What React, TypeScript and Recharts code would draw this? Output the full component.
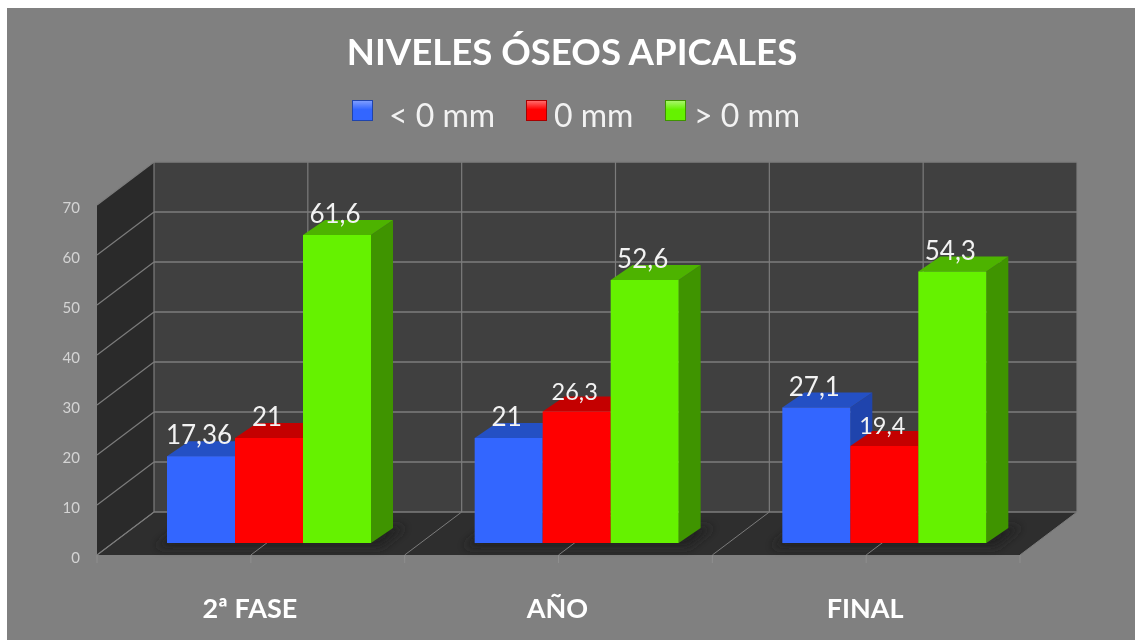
import { Bar, BarChart, CartesianGrid, LabelList, XAxis, YAxis } from "recharts";

const categories = ["2ª FASE", "AÑO", "FINAL"];
const menorCero = [17.36, 21, 27.1];
const cero = [21, 26.3, 19.4];
const mayorCero = [61.6, 52.6, 54.3];
const yTicks = [0, 10, 20, 30, 40, 50, 60, 70];

const data = categories.map((name, i) => ({
  name,
  menor: menorCero[i],
  cero: cero[i],
  mayor: mayorCero[i],
}));

const FONT = "Lato, 'Open Sans', sans-serif";

// plot front plane, in page pixels
const LEFT = 97;
const RIGHT = 1020;
const TOP = 205;
const BOTTOM = 555;
// how far the back wall sits from the front plane
const DEPTH_X = 57;
const DEPTH_Y = 43;
// bars stand part way into the floor
const BAR_X = 18;
const BAR_Y = 12;
const SIDE_X = 22;
const SIDE_Y = 15;

const GRID = "#7c7c7c";

const series = [
  { key: "menor", name: "< 0 mm", front: "#3366ff", top: "#2450c4", side: "#1f44ad", light: "#7d9dff" },
  { key: "cero", name: "0 mm", front: "#ff0000", top: "#c40000", side: "#a80000", light: "#ff6a6a" },
  { key: "mayor", name: "> 0 mm", front: "#65f200", top: "#4db300", side: "#3f9400", light: "#a8f56a" },
];

function Box(props: any) {
  const { x, y, width, height, colors } = props;
  const right = x + width;
  const bottom = y + height;
  return (
    <g transform={`translate(${BAR_X},${-BAR_Y})`}>
      <polygon
        points={`${right},${y} ${right + SIDE_X},${y - SIDE_Y} ${right + SIDE_X},${bottom - SIDE_Y} ${right},${bottom}`}
        fill={colors.side}
      />
      <polygon
        points={`${x},${y} ${x + SIDE_X},${y - SIDE_Y} ${right + SIDE_X},${y - SIDE_Y} ${right},${y}`}
        fill={colors.top}
      />
      <rect x={x} y={y} width={width} height={height} fill={colors.front} />
    </g>
  );
}

function ValueLabel(props: any) {
  const { x, y, width, value } = props;
  const size = value === 26.3 || value === 19.4 ? 23.5 : 26;
  return (
    <text
      x={x + width / 2 + BAR_X - 2}
      y={y - BAR_Y - 12}
      textAnchor="middle"
      fontFamily={FONT}
      fontSize={size}
      fill="#f2f2f2"
    >
      {String(value).replace(".", ",")}
    </text>
  );
}

// back wall, side wall and floor sit behind the transparent chart
function Walls() {
  const band = (RIGHT - LEFT) / categories.length;
  return (
    <svg width={1135} height={640} style={{ position: "absolute", left: 0, top: 0 }}>
      <defs>
        <filter id="floorShadow" x="-20%" y="-80%" width="140%" height="260%">
          <feGaussianBlur stdDeviation="5" />
        </filter>
      </defs>
      <rect x={LEFT + DEPTH_X} y={TOP - DEPTH_Y} width={RIGHT - LEFT} height={BOTTOM - TOP} fill="#404040" />
      <polygon
        points={`${LEFT},${TOP} ${LEFT + DEPTH_X},${TOP - DEPTH_Y} ${LEFT + DEPTH_X},${BOTTOM - DEPTH_Y} ${LEFT},${BOTTOM}`}
        fill="#2a2a2a"
      />
      <polygon
        points={`${LEFT},${BOTTOM} ${LEFT + DEPTH_X},${BOTTOM - DEPTH_Y} ${RIGHT + DEPTH_X},${BOTTOM - DEPTH_Y} ${RIGHT},${BOTTOM}`}
        fill="#2e2e2e"
      />
      {categories.map((c, i) => {
        const cx = LEFT + band * (i + 0.5);
        return (
          <polygon
            key={c}
            points={`${cx - 95},${BOTTOM - 8} ${cx + 130},${BOTTOM - 8} ${cx + 155},${BOTTOM - 28} ${cx - 70},${BOTTOM - 28}`}
            fill="#202020"
            filter="url(#floorShadow)"
          />
        );
      })}
    </svg>
  );
}

function HorizontalLine(props: any) {
  const { x1, x2, y1, key } = props;
  const bx = x1 + DEPTH_X;
  const by = y1 - DEPTH_Y;
  return (
    <g key={key ?? y1}>
      <line x1={x1} y1={y1} x2={bx} y2={by} stroke={GRID} strokeWidth={1.2} />
      <line x1={bx} y1={by} x2={x2 + DEPTH_X} y2={by} stroke={GRID} strokeWidth={1.5} />
    </g>
  );
}

function VerticalLine(props: any) {
  const { x1, y1, y2, key } = props;
  const bx = x1 + DEPTH_X;
  return (
    <g key={key ?? x1}>
      <line x1={bx} y1={y1 - DEPTH_Y} x2={bx} y2={y2 - DEPTH_Y} stroke={GRID} strokeWidth={1.2} />
      <line x1={x1} y1={y2} x2={bx} y2={y2 - DEPTH_Y} stroke={GRID} strokeWidth={1} />
      <line x1={x1} y1={y2} x2={x1} y2={y2 + 8} stroke="#8e8e8e" strokeWidth={1} />
    </g>
  );
}

const verticalPoints = [0, 1, 2, 3, 4, 5, 6].map((i) => LEFT + (i * (RIGHT - LEFT)) / 6);

export default function App() {
  return (
    <div
      style={{
        position: "absolute",
        left: 0,
        top: 0,
        width: 1135,
        height: 640,
        overflow: "hidden",
        background: "#fff",
        filter: "blur(0.5px)",
      }}
    >
      <div style={{ position: "absolute", left: 7, top: 8, width: 1130, height: 634, background: "#808080" }} />
      <Walls />
      <div
        style={{
          position: "absolute",
          left: 0,
          width: 1144,
          top: 25,
          textAlign: "center",
          fontFamily: FONT,
          fontWeight: 700,
          fontSize: 36.6,
          lineHeight: "52px",
          color: "#fff",
        }}
      >
        NIVELES ÓSEOS APICALES
      </div>
      {series.map((s, i) => (
        <div key={s.key}>
          <div
            style={{
              position: "absolute",
              left: [352, 526, 665][i],
              top: 100,
              width: 21,
              height: 21,
              boxSizing: "border-box",
              border: `1px solid ${s.side}`,
              background: `linear-gradient(${s.light}, ${s.front} 45%)`,
            }}
          />
          <div
            style={{
              position: "absolute",
              left: [389, 554, 694][i],
              top: 95,
              fontFamily: FONT,
              fontSize: 32,
              lineHeight: "40px",
              color: "#f2f2f2",
              whiteSpace: "nowrap",
            }}
          >
            {s.name}
          </div>
        </div>
      ))}
      <div style={{ position: "absolute", left: 0, top: 0 }}>
        <BarChart
          width={1135}
          height={640}
          data={data}
          margin={{ top: TOP, right: 1135 - RIGHT, bottom: 0, left: 0 }}
          barCategoryGap={52}
          barGap={0}
        >
          <CartesianGrid
            horizontal={HorizontalLine}
            vertical={VerticalLine}
            verticalPoints={verticalPoints}
          />
          <XAxis
            dataKey="name"
            height={640 - BOTTOM}
            axisLine={false}
            tickLine={false}
            tickMargin={38}
            tick={{ fill: "#fff", fontSize: 27, fontWeight: 700, fontFamily: FONT, dx: -1 }}
          />
          <YAxis
            width={LEFT}
            domain={[0, 70]}
            ticks={yTicks}
            axisLine={false}
            tickLine={false}
            tickMargin={11}
            tick={{ fill: "#d4d4d4", fontSize: 15, fontFamily: FONT, dy: 3 }}
          />
          {series.map((s) => (
            <Bar
              key={s.key}
              dataKey={s.key}
              name={s.name}
              isAnimationActive={false}
              shape={(p: any) => <Box {...p} colors={s} />}
            >
              <LabelList dataKey={s.key} content={ValueLabel} />
            </Bar>
          ))}
        </BarChart>
      </div>
    </div>
  );
}
